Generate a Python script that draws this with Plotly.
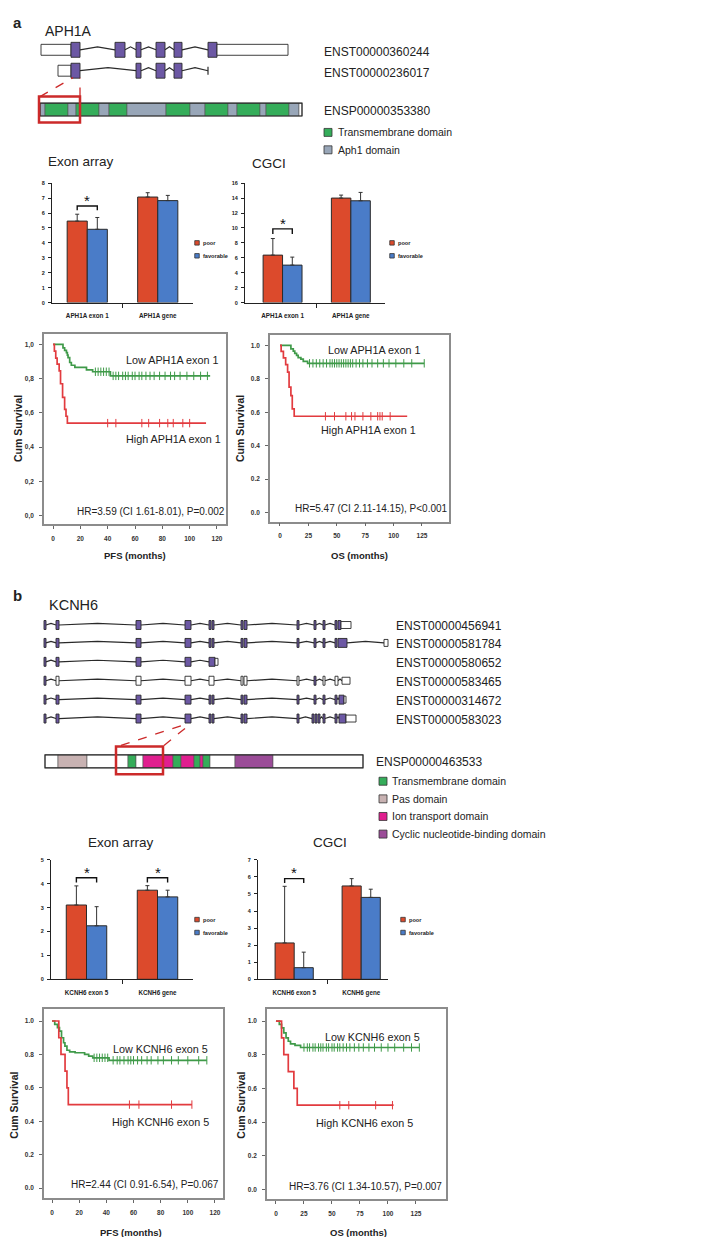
import plotly.graph_objects as go

W, H = 706, 1237

# ===================== DATA =====================
# ---- Panel a: APH1A gene model (positions along the drawn gene track) ----
APH1A_TX_NAMES = ["ENST00000360244", "ENST00000236017"]
APH1A_TX_ROW = [39, 60]
APH1A_TX1_EXONS = [[33, 63, "U"], [63, 72, "C"], [107, 117, "C"], [128, 133, "C"], [148, 157, "C"],
                   [166, 174, "C"], [200, 209, "C"], [209, 280, "U"]]
APH1A_TX2_EXONS = [[50, 63, "U"], [63, 72, "C"], [128, 133, "C"], [148, 157, "C"], [166, 174, "C"]]
APH1A_TX2_END = 200
APH1A_PROT_NAME = "ENSP00000353380"
APH1A_PROT_ROW = 99
APH1A_PROT_START = [32, 37, 60, 68, 91, 101, 119, 158, 182, 197, 220, 229, 252, 258, 281, 291]
APH1A_PROT_END = [37, 60, 68, 91, 101, 119, 158, 182, 197, 220, 229, 252, 258, 281, 291, 294]
APH1A_PROT_TYPE = ["A", "T", "A", "T", "A", "T", "A", "T", "A", "T", "A", "T", "A", "T", "A", "N"]
APH1A_DOMAINS = ["Transmembrane domain", "Aph1 domain"]
APH1A_DOMAIN_KEYS = ["T", "A"]

# ---- Panel b: KCNH6 gene model ----
KCNH6_TX_NAMES = ["ENST00000456941", "ENST00000581784", "ENST00000580652",
                  "ENST00000583465", "ENST00000314672", "ENST00000583023"]
KCNH6_TX_ROW = [617, 635, 654, 673, 692, 711]
KCNH6_TX_EXONS = [
    [[36, 38, "C"], [48, 51, "C"], [128, 133, "C"], [177, 183, "C"], [201, 203, "C"], [204, 206, "C"],
     [233, 235, "C"], [236, 239, "C"], [289, 291, "C"], [306, 308, "C"], [315, 317, "C"], [327, 329, "C"],
     [330, 333, "C"], [333, 343, "U"]],
    [[36, 38, "C"], [48, 51, "C"], [128, 133, "C"], [177, 183, "C"], [201, 203, "C"], [204, 206, "C"],
     [233, 235, "C"], [236, 239, "C"], [289, 291, "C"], [306, 308, "C"], [315, 317, "C"], [327, 329, "C"],
     [330, 339, "C"], [376, 380, "U"]],
    [[36, 38, "C"], [48, 51, "C"], [128, 133, "C"], [177, 183, "C"], [201, 207, "C"], [207, 210, "U"]],
    [[36, 38, "C"], [48, 51, "W"], [128, 133, "W"], [177, 183, "W"], [201, 206, "W"], [233, 235, "W"],
     [236, 239, "W"], [289, 291, "W"], [306, 308, "C"], [315, 317, "W"], [327, 330, "W"], [334, 342, "U"]],
    [[36, 38, "C"], [48, 51, "C"], [128, 133, "C"], [177, 183, "C"], [201, 203, "C"], [204, 206, "C"],
     [233, 235, "C"], [236, 239, "C"], [289, 291, "C"], [306, 308, "C"], [315, 317, "C"], [327, 329, "C"],
     [331, 336, "C"], [336, 338, "U"]],
    [[36, 38, "C"], [48, 51, "C"], [128, 133, "C"], [177, 183, "C"], [201, 203, "C"], [204, 206, "C"],
     [233, 235, "C"], [236, 239, "C"], [289, 291, "C"], [304, 306, "C"], [307, 309, "C"], [310, 312, "C"],
     [315, 317, "C"], [327, 329, "C"], [331, 338, "C"], [338, 348, "U"]],
]
KCNH6_PROT_NAME = "ENSP00000463533"
KCNH6_PROT_ROW = 754
KCNH6_PROT_START = [37, 50, 79, 120, 128, 135, 165, 173, 186, 192, 195, 202, 227, 265]
KCNH6_PROT_END = [50, 79, 120, 128, 135, 165, 173, 186, 192, 195, 202, 227, 265, 355]
KCNH6_PROT_TYPE = ["N", "P", "N", "T", "N", "I", "T", "I", "T", "I", "T", "N", "Y", "N"]
KCNH6_DOMAINS = ["Transmembrane domain", "Pas domain", "Ion transport domain",
                 "Cyclic nucleotide-binding domain"]
KCNH6_DOMAIN_KEYS = ["T", "P", "I", "Y"]

# ---- Bar charts (mean expression with upper error) ----
GROUPS = ["poor", "favorable"]
A_CATS = ["APH1A exon 1", "APH1A gene"]
A_EXON_POOR = [5.46, 7.07]
A_EXON_POOR_ERR = [0.46, 0.29]
A_EXON_FAV = [4.91, 6.83]
A_EXON_FAV_ERR = [0.79, 0.35]
A_CGCI_POOR = [6.36, 14.0]
A_CGCI_POOR_ERR = [2.22, 0.4]
A_CGCI_FAV = [5.02, 13.64]
A_CGCI_FAV_ERR = [1.07, 1.12]

B_CATS = ["KCNH6 exon 5", "KCNH6 gene"]
B_EXON_POOR = [3.11, 3.73]
B_EXON_POOR_ERR = [0.8, 0.19]
B_EXON_FAV = [2.24, 3.45]
B_EXON_FAV_ERR = [0.8, 0.28]
B_CGCI_POOR = [2.13, 5.47]
B_CGCI_POOR_ERR = [3.32, 0.43]
B_CGCI_FAV = [0.68, 4.8]
B_CGCI_FAV_ERR = [0.91, 0.48]

# significance brackets: (category index, bracket level, leg level, star level)
A_EXON_SIG = [[0, 6.47, 6.19, 6.85]]
A_CGCI_SIG = [[0, 9.87, 9.2, 10.6]]
B_EXON_SIG = [[0, 4.25, 4.05, 4.47], [1, 4.25, 4.05, 4.47]]
B_CGCI_SIG = [[0, 5.9, 5.65, 6.27]]

# ---- Kaplan-Meier curves ----
A_PFS_LOW_T = [0, 7.3, 8.5, 9.8, 10.5, 11, 12.2, 13.4, 16, 24.5, 29, 42]
A_PFS_LOW_S = [1.0, 0.98, 0.965, 0.952, 0.937, 0.923, 0.894, 0.878, 0.865, 0.851, 0.84, 0.816]
A_PFS_LOW_END = 115
A_PFS_LOW_CENS = [31, 33, 35, 37, 39, 41, 44, 46, 48, 51, 53, 55, 58, 60, 63, 65, 68, 71, 74, 78,
                  82, 86, 89, 93, 98, 103, 108, 113]
A_PFS_HIGH_T = [0, 1, 2, 3, 4.5, 5.5, 7, 8.5, 9.5, 10.5]
A_PFS_HIGH_S = [1.0, 0.96, 0.92, 0.885, 0.845, 0.77, 0.69, 0.62, 0.58, 0.54]
A_PFS_HIGH_END = 112
A_PFS_HIGH_CENS = [40, 46, 65, 70, 78, 84, 88, 95, 100]

A_OS_LOW_T = [0, 9.6, 11.7, 13, 14.6, 16, 18.4, 20.5, 24.3]
A_OS_LOW_S = [1.0, 0.98, 0.966, 0.952, 0.94, 0.927, 0.918, 0.905, 0.893]
A_OS_LOW_END = 127
A_OS_LOW_CENS = [26, 29, 32, 35, 38, 41, 44, 46, 48, 50, 52, 54, 56, 58, 60, 62, 64, 67, 70, 73,
                 77, 81, 86, 91, 96, 102, 109, 116, 127]
A_OS_HIGH_T = [0, 1, 3, 5, 6.7, 8, 9.6, 10.8, 12.5]
A_OS_HIGH_S = [1.0, 0.965, 0.925, 0.885, 0.84, 0.75, 0.70, 0.62, 0.576]
A_OS_HIGH_END = 112
A_OS_HIGH_CENS = [40, 48, 58, 63, 66, 73, 80, 86, 88, 90, 97]

B_PFS_LOW_T = [0, 2, 4, 5.5, 7, 8.5, 9.5, 11, 13, 17, 24, 27, 30, 42]
B_PFS_LOW_S = [1.0, 0.98, 0.96, 0.94, 0.90, 0.87, 0.85, 0.825, 0.815, 0.81, 0.80, 0.79, 0.78, 0.765]
B_PFS_LOW_END = 114
B_PFS_LOW_CENS = [31, 33, 35, 37, 39, 41, 45, 48, 50, 53, 56, 58, 60, 63, 66, 70, 73, 78, 82, 88,
                  93, 100, 108, 114]
B_PFS_HIGH_T = [0, 5, 6.6, 9.6, 11, 12]
B_PFS_HIGH_S = [1.0, 0.9, 0.8, 0.7, 0.6, 0.5]
B_PFS_HIGH_END = 103
B_PFS_HIGH_CENS = [57, 64, 88, 103]

B_OS_LOW_T = [0, 3, 5, 7, 9, 11, 13, 17, 22]
B_OS_LOW_S = [1.0, 0.98, 0.96, 0.93, 0.90, 0.88, 0.865, 0.855, 0.843]
B_OS_LOW_END = 128
B_OS_LOW_CENS = [25, 28, 30, 33, 35, 38, 40, 42, 45, 47, 50, 52, 55, 57, 60, 63, 66, 70, 74, 78,
                 83, 88, 94, 100, 106, 114, 121, 128]
B_OS_HIGH_T = [0, 5, 7, 11, 16, 19]
B_OS_HIGH_S = [1.0, 0.9, 0.8, 0.7, 0.6, 0.5]
B_OS_HIGH_END = 105
B_OS_HIGH_CENS = [57, 65, 89, 104]

KM_Y_TICKS = [0, 0.2, 0.4, 0.6, 0.8, 1.0]
KM_Y_TEXT_COMMA = ["0,0", "0,2", "0,4", "0,6", "0,8", "1,0"]
KM_Y_TEXT_DOT = ["0.0", "0.2", "0.4", "0.6", "0.8", "1.0"]
PFS_X_TICKS = [0, 20, 40, 60, 80, 100, 120]
OS_X_TICKS = [0, 25, 50, 75, 100, 125]

# ===================== STYLE =====================
FONT = "Liberation Sans, Arial, sans-serif"
PURPLE = "#6c58a4"
DOMAIN_COLORS = {"T": "#35ad5a", "A": "#98a6b8", "P": "#c8b2b2", "I": "#e01f8f",
                 "Y": "#9b4c98", "N": "#ffffff"}
RED_BOX = "#cc2a2a"
BAR_RED = "#dc4a2c"
BAR_BLUE = "#4a7cc8"
KM_GREEN = "#3f9a49"
KM_RED = "#e23b3f"
EDGE = "#2a2a2a"


def PX(x):
    return x / W


def PY(y):
    return 1 - y / H


fig = go.Figure()
shapes = []
ann = []
layout_axes = {}

# schematic axis covering whole page (px-like units)
layout_axes["xaxis"] = dict(domain=[0, 1], range=[0, W], visible=False, fixedrange=True)
layout_axes["yaxis"] = dict(domain=[0, 1], range=[H, 0], visible=False, fixedrange=True)
fig.add_trace(go.Scatter(x=[0], y=[0], mode="markers", marker=dict(opacity=0),
                         showlegend=False, hoverinfo="skip", xaxis="x", yaxis="y"))


def text(t, x, y, size=12, xanchor="left", bold=False, family=FONT, color="#222", angle=0):
    ann.append(dict(text=f"<b>{t}</b>" if bold else t, x=PX(x), y=PY(y), xref="paper", yref="paper",
                    xanchor=xanchor, yanchor="middle", showarrow=False, textangle=angle,
                    font=dict(size=size, family=family, color=color)))


def srect(x0, x1, yc, h, fill, lw=1.0, color=EDGE):
    shapes.append(dict(type="rect", xref="x", yref="y", x0=x0, x1=x1, y0=yc - h / 2, y1=yc + h / 2,
                       fillcolor=fill, line=dict(color=color, width=lw), layer="above"))


def spath(path, color=EDGE, width=1.2, dash="solid"):
    shapes.append(dict(type="path", xref="x", yref="y", path=path,
                       line=dict(color=color, width=width, dash=dash), layer="above"))


def psquare(xc, yc, s, fill):
    shapes.append(dict(type="rect", xref="paper", yref="paper", x0=PX(xc - s / 2), x1=PX(xc + s / 2),
                       y0=PY(yc + s / 2), y1=PY(yc - s / 2), fillcolor=fill,
                       line=dict(color="#333", width=0.8)))


def transcript(y, exons, peak, h_cds, h_utr, end=None):
    ex = sorted(exons)
    for a, b in zip(ex, ex[1:]):
        if b[0] - a[1] > 1.5:
            mid = (a[1] + b[0]) / 2
            spath(f"M {a[1]},{y} L {mid},{y - peak} L {b[0]},{y}")
    if end is not None:
        a1 = ex[-1][1]
        mid = (a1 + end) / 2
        spath(f"M {a1},{y} L {mid},{y - peak} L {end},{y}")
        spath(f"M {end},{y - 4} L {end},{y + 4}")
    for x0, x1, kind in ex:
        if kind == "C":
            srect(x0, x1, y, h_cds, PURPLE, 0.9)
        elif kind == "W":
            srect(x0, x1, y, h_cds, "#ffffff", 0.9)
        else:
            srect(x0, x1, y, h_utr, "#ffffff", 0.9)


def protein(y, starts, ends, types, h):
    for s, e, t in zip(starts, ends, types):
        srect(s, e, y, h, DOMAIN_COLORS[t], 0.6, "#555")
    shapes.append(dict(type="rect", xref="x", yref="y", x0=starts[0], x1=ends[-1], y0=y - h / 2,
                       y1=y + h / 2, line=dict(color=EDGE, width=1.2), layer="above"))


# ---------------- Panel a schematic ----------------
text("a", 3, 12, size=15, bold=True)
text("APH1A", 35, 20, size=14)
transcript(APH1A_TX_ROW[0], APH1A_TX1_EXONS, 3, 15, 11)
transcript(APH1A_TX_ROW[1], APH1A_TX2_EXONS, 3, 15, 11, end=APH1A_TX2_END)
for name, yy in zip(APH1A_TX_NAMES, APH1A_TX_ROW):
    text(name, 314, yy + 2, size=12)
protein(APH1A_PROT_ROW, APH1A_PROT_START, APH1A_PROT_END, APH1A_PROT_TYPE, 13)
text(APH1A_PROT_NAME, 314, APH1A_PROT_ROW + 1, size=12)
# zoom box + dashed lines to exon 1
spath("M 32,86 L 65,67", RED_BOX, 1.3, "dash")
spath("M 72,86 L 72,67", RED_BOX, 1.3, "dash")
shapes.append(dict(type="rect", xref="x", yref="y", x0=31, x1=72, y0=86, y1=112,
                   line=dict(color=RED_BOX, width=2.5), layer="above"))
for i, (lab, key) in enumerate(zip(APH1A_DOMAINS, APH1A_DOMAIN_KEYS)):
    yy = 122 + 17.5 * i
    psquare(320, yy, 8, DOMAIN_COLORS[key])
    text(lab, 328, yy, size=10.5)

# ---------------- Panel b schematic ----------------
text("b", 3, 587, size=15, bold=True)
text("KCNH6", 39, 597, size=14.5)
for yy, exons in zip(KCNH6_TX_ROW, KCNH6_TX_EXONS):
    transcript(yy, exons, 1.6, 9, 7)
for name, yy in zip(KCNH6_TX_NAMES, KCNH6_TX_ROW):
    text(name, 386, yy + 1, size=12)
protein(KCNH6_PROT_ROW, KCNH6_PROT_START, KCNH6_PROT_END, KCNH6_PROT_TYPE, 13)
text(KCNH6_PROT_NAME, 366, KCNH6_PROT_ROW + 1, size=12)
spath("M 113,738 L 180,716", RED_BOX, 1.3, "dash")
spath("M 156,738 L 183,716", RED_BOX, 1.3, "dash")
shapes.append(dict(type="rect", xref="x", yref="y", x0=108, x1=155, y0=739, y1=767,
                   line=dict(color=RED_BOX, width=2.5), layer="above"))
for i, (lab, key) in enumerate(zip(KCNH6_DOMAINS, KCNH6_DOMAIN_KEYS)):
    yy = 774 + 17.7 * i
    psquare(375, yy, 8, DOMAIN_COLORS[key])
    text(lab, 382, yy, size=10.5)

# ---------------- Bar charts ----------------
BAR_W = 0.285
TICKF = dict(size=5.5, family=FONT, color="#222", weight="bold")


def bar_chart(n, dom_x, dom_y, xr, yr, dtick, cats, poor, poor_err, fav, fav_err, sig, legend_x, legend_y):
    xa, ya = f"x{n}", f"y{n}"
    xs = list(range(len(cats)))
    for vals, errs, col, off in [(poor, poor_err, BAR_RED, -BAR_W), (fav, fav_err, BAR_BLUE, 0)]:
        fig.add_trace(go.Bar(x=xs, y=vals, width=BAR_W, offset=off, xaxis=xa, yaxis=ya,
                             marker=dict(color=col, line=dict(color=EDGE, width=1)),
                             error_y=dict(type="data", symmetric=False, array=errs,
                                          arrayminus=[0] * len(errs), color="#333",
                                          thickness=1, width=2),
                             showlegend=False, hoverinfo="skip"))
    for ci, top, leg, star in sig:
        d = BAR_W / 2
        fig.add_trace(go.Scatter(x=[ci - d, ci - d, ci + d, ci + d], y=[leg, top, top, leg],
                                 mode="lines", line=dict(color="#111", width=1.4),
                                 xaxis=xa, yaxis=ya, showlegend=False, hoverinfo="skip"))
        ann.append(dict(text="*", x=ci, y=star, xref=xa, yref=ya, showarrow=False,
                        font=dict(size=15, family=FONT, color="#111"), yanchor="middle"))
    layout_axes[f"xaxis{n}"] = dict(domain=[PX(dom_x[0]), PX(dom_x[1])], range=xr, anchor=ya,
                                    tickvals=xs, ticktext=cats, ticks="", showline=True,
                                    linecolor="#222", linewidth=1, showgrid=False, zeroline=False,
                                    tickfont=dict(size=6.3, family=FONT, color="#222", weight="bold"),
                                    ticklabelstandoff=7, fixedrange=True,
                                    minor=dict(tickmode="array", tickvals=[0.5], ticks="outside",
                                               ticklen=4, tickcolor="#222"))
    layout_axes[f"yaxis{n}"] = dict(domain=[PY(dom_y[1]), PY(dom_y[0])], range=yr, anchor=xa,
                                    dtick=dtick, tick0=0, ticks="outside", ticklen=3,
                                    tickcolor="#222", showline=True, linecolor="#222", linewidth=1,
                                    showgrid=False, zeroline=False, tickfont=TICKF,
                                    ticklabelstandoff=2, fixedrange=True)
    for i, (g, col) in enumerate(zip(GROUPS, [BAR_RED, BAR_BLUE])):
        yy = legend_y + 13 * i
        psquare(legend_x, yy, 4.5, col)
        text(g, legend_x + 4, yy, size=5.6, bold=True)


text("Exon array", 38, 151, size=13.5)
text("CGCI", 242, 153, size=13.5)
bar_chart(2, (44, 185), (173, 293), [-0.5, 1.5], [0, 8], 1, A_CATS, A_EXON_POOR, A_EXON_POOR_ERR,
          A_EXON_FAV, A_EXON_FAV_ERR, A_EXON_SIG, 189, 233)
bar_chart(3, (237, 377), (173, 293), [-0.55, 1.5], [0, 16], 2, A_CATS, A_CGCI_POOR, A_CGCI_POOR_ERR,
          A_CGCI_FAV, A_CGCI_FAV_ERR, A_CGCI_SIG, 384, 233)
text("Exon array", 113, 836, size=13.5, xanchor="center")
text("CGCI", 322, 836, size=13.5, xanchor="center")
bar_chart(6, (43, 185), (853, 973), [-0.5, 1.5], [0, 5], 1, B_CATS, B_EXON_POOR, B_EXON_POOR_ERR,
          B_EXON_FAV, B_EXON_FAV_ERR, B_EXON_SIG, 189, 913)
bar_chart(7, (250, 380), (853, 973), [-0.54, 1.4], [0, 7], 1, B_CATS, B_CGCI_POOR, B_CGCI_POOR_ERR,
          B_CGCI_FAV, B_CGCI_FAV_ERR, B_CGCI_SIG, 395, 913)


# ---------------- Kaplan-Meier ----------------
def step_at(ts, ss, t):
    v = ss[0]
    for ti, si in zip(ts, ss):
        if ti <= t:
            v = si
    return v


def km_curve(n, ts, ss, end, cens, color):
    xa, ya = f"x{n}", f"y{n}"
    fig.add_trace(go.Scatter(x=list(ts) + [end], y=list(ss) + [ss[-1]], mode="lines",
                             line=dict(color=color, width=1.7, shape="hv"), xaxis=xa, yaxis=ya,
                             showlegend=False, hoverinfo="skip"))
    fig.add_trace(go.Scatter(x=cens, y=[step_at(ts, ss, c) for c in cens], mode="markers",
                             marker=dict(symbol="line-ns", size=6, line=dict(color=color, width=1)),
                             xaxis=xa, yaxis=ya, showlegend=False, hoverinfo="skip"))


def km_axes(n, fx, fy, xr, yr, xt, ytext):
    xa, ya = f"x{n}", f"y{n}"
    tf = dict(size=6.5, family=FONT, color="#333", weight="bold")
    layout_axes[f"xaxis{n}"] = dict(domain=[PX(fx[0]), PX(fx[1])], range=xr, anchor=ya, tickvals=xt,
                                    ticks="outside", ticklen=3, tickcolor="#666", showline=True,
                                    mirror=True, linecolor="#8c8c8c", linewidth=1.6, showgrid=False,
                                    zeroline=False, tickfont=tf, ticklabelstandoff=4, fixedrange=True)
    layout_axes[f"yaxis{n}"] = dict(domain=[PY(fy[1]), PY(fy[0])], range=yr, anchor=xa,
                                    tickvals=KM_Y_TICKS, ticktext=ytext, ticks="outside", ticklen=3,
                                    tickcolor="#666", showline=True, mirror=True, linecolor="#8c8c8c",
                                    linewidth=1.6, showgrid=False, zeroline=False, tickfont=tf,
                                    ticklabelstandoff=4, fixedrange=True)


km_axes(4, (36, 218), (325, 516), [-6.6, 126.6], [-0.052, 1.058], PFS_X_TICKS, KM_Y_TEXT_COMMA)
km_curve(4, A_PFS_LOW_T, A_PFS_LOW_S, A_PFS_LOW_END, A_PFS_LOW_CENS, KM_GREEN)
km_curve(4, A_PFS_HIGH_T, A_PFS_HIGH_S, A_PFS_HIGH_END, A_PFS_HIGH_CENS, KM_RED)
km_axes(5, (262, 441), (326, 513), [-8.8, 148.8], [-0.054, 1.06], OS_X_TICKS, KM_Y_TEXT_DOT)
km_curve(5, A_OS_LOW_T, A_OS_LOW_S, A_OS_LOW_END, A_OS_LOW_CENS, KM_GREEN)
km_curve(5, A_OS_HIGH_T, A_OS_HIGH_S, A_OS_HIGH_END, A_OS_HIGH_CENS, KM_RED)
km_axes(8, (36, 215), (1003, 1193), [-5.9, 125.9], [-0.06, 1.071], PFS_X_TICKS, KM_Y_TEXT_DOT)
km_curve(8, B_PFS_LOW_T, B_PFS_LOW_S, B_PFS_LOW_END, B_PFS_LOW_CENS, KM_GREEN)
km_curve(8, B_PFS_HIGH_T, B_PFS_HIGH_S, B_PFS_HIGH_END, B_PFS_HIGH_CENS, KM_RED)
km_axes(9, (259, 438), (1003, 1194), [-8.0, 151.8], [-0.059, 1.071], OS_X_TICKS, KM_Y_TEXT_DOT)
km_curve(9, B_OS_LOW_T, B_OS_LOW_S, B_OS_LOW_END, B_OS_LOW_CENS, KM_GREEN)
km_curve(9, B_OS_HIGH_T, B_OS_HIGH_S, B_OS_HIGH_END, B_OS_HIGH_CENS, KM_RED)

# KM labels
KM_FS = 10.8
HR_FS = 10
text("Low APH1A exon 1", 164, 351, size=KM_FS, xanchor="center")
text("High APH1A exon 1", 165, 430, size=KM_FS, xanchor="center")
text("HR=3.59 (CI 1.61-8.01), P=0.002", 143, 503, size=HR_FS, xanchor="center")
text("Low APH1A exon 1", 366, 341, size=KM_FS, xanchor="center")
text("High APH1A exon 1", 360, 421, size=KM_FS, xanchor="center")
text("HR=5.47 (CI 2.11-14.15), P&lt;0.001", 363, 500, size=HR_FS, xanchor="center")
text("Low KCNH6 exon 5", 152, 1043, size=KM_FS, xanchor="center")
text("High KCNH6 exon 5", 152, 1116, size=KM_FS, xanchor="center")
text("HR=2.44 (CI 0.91-6.54), P=0.067", 137, 1179, size=HR_FS, xanchor="center")
text("Low KCNH6 exon 5", 364, 1031, size=KM_FS, xanchor="center")
text("High KCNH6 exon 5", 356, 1117, size=KM_FS, xanchor="center")
text("HR=3.76 (CI 1.34-10.57), P=0.007", 358, 1181, size=HR_FS, xanchor="center")

for xx, yy in [(10, 420), (232, 420), (6, 1100), (233, 1100)]:
    text("Cum Survival", xx, yy, size=10.5, xanchor="center", bold=True, angle=-90)
text("PFS (months)", 127, 547, size=9.5, xanchor="center", bold=True)
text("OS (months)", 351, 547, size=9.5, xanchor="center", bold=True)
text("PFS (months)", 123, 1227, size=9.5, xanchor="center", bold=True)
text("OS (months)", 350, 1227, size=9.5, xanchor="center", bold=True)

fig.update_layout(width=W, height=H, margin=dict(l=0, r=0, t=0, b=0), paper_bgcolor="white",
                  plot_bgcolor="rgba(0,0,0,0)", shapes=shapes, annotations=ann, showlegend=False,
                  barmode="overlay", **layout_axes)
fig.write_html("out.html")
